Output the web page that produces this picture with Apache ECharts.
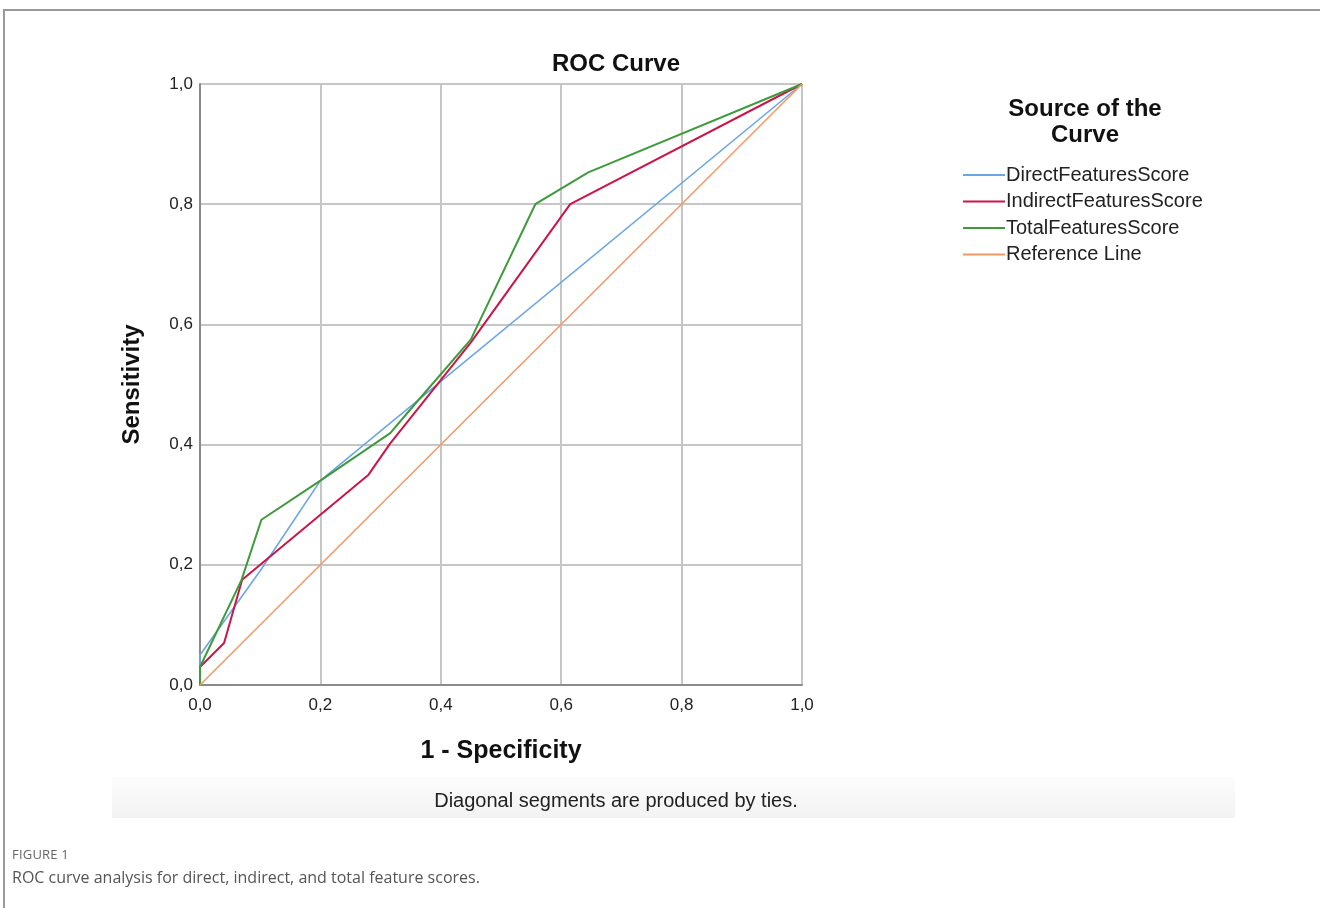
<!DOCTYPE html>
<html>
<head>
<meta charset="utf-8">
<script src="https://cdn.jsdelivr.net/npm/echarts@6/dist/echarts.min.js"></script>
<style>
  html, body { margin: 0; padding: 0; background: #fff; }
  #frame { position: absolute; left: 3px; top: 9px; width: 1317px; height: 899px;
           border-top: 2px solid #9a9a9a; border-left: 2px solid #9a9a9a; box-sizing: border-box; }
  #chart { position: absolute; left: 0; top: 0; width: 1320px; height: 908px; }
  #fig { position: absolute; left: 12px; top: 845px; font-family: "Open Sans", sans-serif;
         font-size: 13px; color: #666; letter-spacing: 0.2px; }
  #cap { position: absolute; left: 12px; top: 866px; font-family: "Open Sans", sans-serif;
         font-size: 16px; color: #555; }
</style>
</head>
<body>
<div id="frame"></div>
<div id="chart"></div>
<div id="fig">FIGURE 1</div>
<div id="cap">ROC curve analysis for direct, indirect, and total feature scores.</div>
<script>
// ROC points: x = 1 - specificity, y = sensitivity
const seriesNames = ['DirectFeaturesScore', 'IndirectFeaturesScore', 'TotalFeaturesScore', 'Reference Line'];
const seriesColors = ['#6aa6e6', '#cc1448', '#3f9a3c', '#f39a62'];

const directX = [0, 0, 0.1, 0.2, 1];
const directY = [0, 0.05, 0.19, 0.34, 1];

const indirectX = [0, 0, 0.04, 0.07, 0.28, 0.316, 0.45, 0.615, 1];
const indirectY = [0, 0.03, 0.07, 0.175, 0.35, 0.402, 0.57, 0.80, 1];

const totalX = [0, 0, 0.069, 0.102, 0.2, 0.316, 0.349, 0.45, 0.557, 0.645, 1];
const totalY = [0, 0.03, 0.175, 0.275, 0.34, 0.419, 0.458, 0.575, 0.80, 0.853, 1];

const referenceX = [0, 1];
const referenceY = [0, 1];

const pairs = (xs, ys) => xs.map((x, i) => [x, ys[i]]);
const fmt = (v) => v.toFixed(1).replace('.', ',');
const FONT = '"Liberation Sans", Arial, sans-serif';

const chart = echarts.init(document.getElementById('chart'));

const lineSeries = [
  pairs(directX, directY),
  pairs(indirectX, indirectY),
  pairs(totalX, totalY),
  pairs(referenceX, referenceY),
].map((data, i) => ({
  name: seriesNames[i],
  type: 'line',
  data,
  showSymbol: false,
  symbol: 'none',
  animation: false,
  lineStyle: { color: seriesColors[i], width: i === 0 || i === 3 ? 1.6 : 2 },
  itemStyle: { color: seriesColors[i] },
  z: 3 + i,
}));

chart.setOption({
  animation: false,
  textStyle: { fontFamily: FONT },
  title: [
    {
      text: 'ROC Curve',
      left: 611, top: 47, textAlign: 'center',
      textStyle: { fontSize: 24, fontWeight: 'bold', color: '#111', fontFamily: FONT },
    },
    {
      text: 'Source of the\nCurve',
      left: 1080, top: 91, textAlign: 'center',
      textStyle: { fontSize: 24, fontWeight: 'bold', color: '#111', lineHeight: 26, fontFamily: FONT },
    },
  ],
  legend: {
    orient: 'vertical',
    left: 958, top: 160,
    itemWidth: 42, itemHeight: 2, itemGap: 6.5,
    icon: 'rect',
    data: seriesNames,
    textStyle: { fontSize: 20, color: '#222', padding: [0, 0, 0, -4], fontFamily: FONT },
  },
  graphic: [
    {
      type: 'rect',
      silent: true,
      z: -10,
      shape: { x: 112, y: 777, width: 1123, height: 41 },
      style: {
        fill: new echarts.graphic.LinearGradient(0, 0, 0, 1, [
          { offset: 0, color: '#fcfcfc' },
          { offset: 1, color: '#f3f3f3' },
        ]),
      },
    },
    {
      type: 'text',
      silent: true,
      x: 616, y: 801,
      style: {
        text: 'Diagonal segments are produced by ties.',
        fontSize: 20, fill: '#222', align: 'center', verticalAlign: 'middle',
        fontFamily: FONT,
      },
    },
  ],
  grid: { left: 200, top: 84, width: 602, height: 601 },
  xAxis: {
    type: 'value', min: 0, max: 1, interval: 0.2,
    name: '1 - Specificity', nameLocation: 'middle', nameGap: 54,
    nameTextStyle: { fontSize: 25, fontWeight: 'bold', color: '#111' },
    axisLine: { show: true, lineStyle: { color: '#8a8a8a', width: 2 } },
    axisTick: { show: false },
    axisLabel: { formatter: fmt, fontSize: 17, color: '#222', margin: 12 },
    splitLine: { show: true, lineStyle: { color: '#c6c6c6', width: 2 } },
  },
  yAxis: {
    type: 'value', min: 0, max: 1, interval: 0.2,
    name: 'Sensitivity', nameLocation: 'middle', nameGap: 56, nameRotate: 90,
    nameTextStyle: { fontSize: 24, fontWeight: 'bold', color: '#111' },
    axisLine: { show: true, lineStyle: { color: '#8a8a8a', width: 2 } },
    axisTick: { show: false },
    axisLabel: { formatter: fmt, fontSize: 17, color: '#222', margin: 7 },
    splitLine: { show: true, lineStyle: { color: '#c6c6c6', width: 2 } },
  },
  series: lineSeries,
});
</script>
</body>
</html>
